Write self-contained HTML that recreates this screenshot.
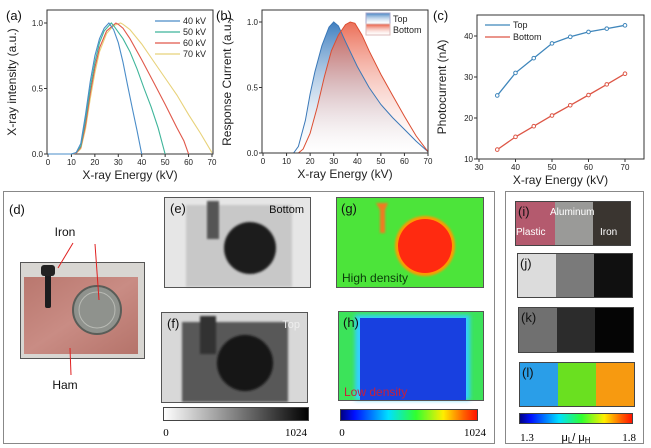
<!DOCTYPE html>
<html><head><meta charset="utf-8">
<style>
body{margin:0;background:#fff}
svg{display:block;font-family:"Liberation Sans",sans-serif}
.t{font-size:8px;fill:#222}
.lab{font-size:12px;fill:#222}
.pl{font-size:13px;fill:#111}
</style></head><body>
<svg id="fig" width="651" height="448" viewBox="0 0 651 448">
<defs>
<linearGradient id="gTop" x1="0" y1="0" x2="0" y2="1"><stop offset="0" stop-color="#3f7fc0"/><stop offset="1" stop-color="#fff" stop-opacity="0.2"/></linearGradient>
<linearGradient id="gBot" x1="0" y1="0" x2="0" y2="1"><stop offset="0" stop-color="#e8553a"/><stop offset="1" stop-color="#fff" stop-opacity="0.2"/></linearGradient>
<linearGradient id="cbGray" x1="0" x2="1"><stop offset="0" stop-color="#fff"/><stop offset="1" stop-color="#000"/></linearGradient>
<linearGradient id="cbJet" x1="0" x2="1"><stop offset="0" stop-color="#000080"/><stop offset="0.1" stop-color="#0010ff"/><stop offset="0.35" stop-color="#00e0ff"/><stop offset="0.55" stop-color="#30ff30"/><stop offset="0.75" stop-color="#ffee00"/><stop offset="0.9" stop-color="#ff6000"/><stop offset="1" stop-color="#ff1000"/></linearGradient>
<linearGradient id="ham" x1="0" y1="0" x2="1" y2="1"><stop offset="0" stop-color="#b9776e"/><stop offset="0.5" stop-color="#c98c84"/><stop offset="1" stop-color="#b5736a"/></linearGradient>
<filter id="bl"><feGaussianBlur stdDeviation="2"/></filter>
<filter id="bl1"><feGaussianBlur stdDeviation="1"/></filter>
</defs>
<g id="chartA"></g>
<g id="chartB"></g>
<g id="chartC"></g>

<!-- bottom frames -->
<rect x="3.5" y="191.5" width="491" height="252" fill="none" stroke="#888"/>
<rect x="505.5" y="191.5" width="138" height="252" fill="none" stroke="#888"/>

<!-- (d) photo -->
<g>
<text x="9" y="214" class="pl">(d)</text>
<rect x="20.5" y="262.5" width="124" height="96" fill="#d8d6d2" stroke="#555"/>
<rect x="24" y="277" width="114" height="77" fill="url(#ham)"/>
<rect x="45" y="268" width="6" height="40" fill="#1c1c1e" rx="2"/>
<rect x="41" y="265" width="14" height="11" fill="#222" rx="3"/>
<circle cx="97" cy="310" r="24" fill="#8f928d" stroke="#5a5d58" stroke-width="2"/>
<circle cx="97" cy="310" r="18" fill="none" stroke="#b8bab4" stroke-width="1"/>
<text x="65" y="236" font-size="12" text-anchor="middle" fill="#111">Iron</text>
<line x1="73" y1="243" x2="58" y2="268" stroke="#e02020" stroke-width="1"/>
<line x1="95" y1="244" x2="99" y2="300" stroke="#e02020" stroke-width="1"/>
<text x="65" y="389" font-size="12" text-anchor="middle" fill="#111">Ham</text>
<line x1="71" y1="375" x2="70" y2="348" stroke="#e02020" stroke-width="1"/>
</g>

<!-- (e) -->
<g>
<rect x="164" y="197" width="146" height="90" fill="#e6e6e6"/>
<rect x="186" y="205" width="106" height="82" fill="#c8c8c8" filter="url(#bl1)"/>
<rect x="207" y="201" width="12" height="38" fill="#555" filter="url(#bl1)"/>
<circle cx="250" cy="248" r="26" fill="#1a1a1a" filter="url(#bl1)"/>
<rect x="164.5" y="197.5" width="146" height="90" fill="none" stroke="#555"/>
<text x="170" y="213" class="pl">(e)</text>
<text x="304" y="213" font-size="11" text-anchor="end" fill="#111">Bottom</text>
</g>
<!-- (f) -->
<g>
<rect x="161" y="312" width="146" height="90" fill="#d8d8d8"/>
<rect x="182" y="322" width="106" height="80" fill="#585858" filter="url(#bl1)"/>
<rect x="200" y="316" width="16" height="38" fill="#303030" filter="url(#bl1)"/>
<circle cx="245" cy="363" r="28" fill="#161616" filter="url(#bl1)"/>
<rect x="161.5" y="312.5" width="146" height="90" fill="none" stroke="#555"/>
<text x="167" y="328" class="pl">(f)</text>
<text x="300" y="328" font-size="11" text-anchor="end" fill="#eee">Top</text>
</g>
<rect x="163.5" y="407.5" width="145" height="13" fill="url(#cbGray)" stroke="#444"/>
<text x="166" y="436" font-size="11" font-family="Liberation Serif" text-anchor="middle">0</text>
<text x="307" y="436" font-size="11" font-family="Liberation Serif" text-anchor="end">1024</text>

<!-- (g) -->
<g>
<rect x="336" y="197" width="147" height="90" fill="#4ce43a"/>
<path d="M376 203 L388 203 L385 210 L385 233 L380 233 L380 210 Z" fill="#f07a20" filter="url(#bl1)"/>
<circle cx="425" cy="246" r="30" fill="#ff9a00" filter="url(#bl1)"/>
<circle cx="425" cy="246" r="27" fill="#ff2a10"/>
<rect x="336.5" y="197.5" width="147" height="90" fill="none" stroke="#555"/>
<text x="341" y="213" class="pl">(g)</text>
<text x="342" y="282" font-size="12" fill="#0a3a0a">High density</text>
</g>
<!-- (h) -->
<g>
<rect x="338" y="311" width="145" height="89" fill="#3ce35a"/>
<rect x="355" y="315" width="115" height="85" fill="#30d0ff" filter="url(#bl)"/>
<rect x="360" y="318" width="106" height="82" fill="#1840e0"/>
<rect x="338.5" y="311.5" width="145" height="89" fill="none" stroke="#555"/>
<text x="343" y="327" class="pl">(h)</text>
<text x="344" y="396" font-size="12" fill="#c8203a">Low density</text>
</g>
<rect x="340.5" y="409.5" width="137" height="11" fill="url(#cbJet)" stroke="#444"/>
<text x="342" y="436" font-size="11" font-family="Liberation Serif" text-anchor="middle">0</text>
<text x="486" y="436" font-size="11" font-family="Liberation Serif" text-anchor="end">1024</text>

<!-- (i)-(l) -->
<g>
<rect x="515" y="201" width="40" height="44" fill="#b45a6e"/>
<rect x="555" y="201" width="38" height="44" fill="#9a9a98"/>
<rect x="593" y="201" width="37" height="44" fill="#3a3530"/>
<rect x="515.5" y="201.5" width="115" height="44" fill="none" stroke="#444"/>
<text x="518" y="216" class="pl" fill="#111">(i)</text>
<text x="550" y="215" font-size="10" fill="#fff">Aluminum</text>
<text x="516" y="235" font-size="10" fill="#fff">Plastic</text>
<text x="600" y="235" font-size="10" fill="#fff">Iron</text>
</g>
<g>
<rect x="517" y="253" width="39" height="44" fill="#dcdcdc"/><rect x="556" y="253" width="38" height="44" fill="#7a7a7a"/><rect x="594" y="253" width="38" height="44" fill="#101010"/>
<rect x="517.5" y="253.5" width="115" height="44" fill="none" stroke="#444"/>
<text x="520" y="268" class="pl">(j)</text>
</g>
<g>
<rect x="518" y="307" width="39" height="45" fill="#707070"/><rect x="557" y="307" width="38" height="45" fill="#2c2c2c"/><rect x="595" y="307" width="38" height="45" fill="#050505"/>
<rect x="518.5" y="307.5" width="115" height="45" fill="none" stroke="#444"/>
<text x="521" y="322" class="pl">(k)</text>
</g>
<g>
<rect x="519" y="362" width="39" height="44" fill="#2a9ee8"/><rect x="558" y="362" width="38" height="44" fill="#6ae020"/><rect x="596" y="362" width="38" height="44" fill="#f79a10"/>
<rect x="519.5" y="362.5" width="115" height="44" fill="none" stroke="#444"/>
<text x="522" y="377" class="pl">(l)</text>
</g>
<rect x="519.5" y="413.5" width="113" height="10" fill="url(#cbJet)" stroke="#444"/>
<text x="527" y="441" font-size="11" font-family="Liberation Serif" text-anchor="middle">1.3</text>
<text x="576" y="441" font-size="11" text-anchor="middle">μ<tspan font-size="8" dy="2">L</tspan><tspan dy="-2">/ μ</tspan><tspan font-size="8" dy="2">H</tspan></text>
<text x="636" y="441" font-size="11" font-family="Liberation Serif" text-anchor="end">1.8</text>
</svg>
<script>
// ---- data ----
const aEnergy40=[0,10,12,14,16,18,20,22,24,26,28,30,32,34,36,38,40];
const aInt40=[0,0,0.01,0.08,0.3,0.55,0.75,0.88,0.96,1.0,0.95,0.85,0.7,0.52,0.35,0.18,0];
const aEnergy50=[0,10,12,14,16,18,20,22,24,27,28,30,32,35,38,41,44,47,50];
const aInt50=[0,0,0.01,0.06,0.26,0.5,0.7,0.85,0.94,1.0,0.98,0.93,0.88,0.78,0.65,0.5,0.36,0.2,0];
const aEnergy60=[0,10,12,14,16,18,20,22,25,29,30,32,35,40,45,50,55,58,60];
const aInt60=[0,0,0.005,0.05,0.22,0.46,0.66,0.81,0.94,1.0,0.99,0.96,0.88,0.72,0.55,0.38,0.2,0.1,0];
const aEnergy70=[0,10,12,14,16,18,20,22,25,28,31,32,35,40,45,50,55,60,65,70];
const aInt70=[0,0,0.005,0.04,0.19,0.42,0.62,0.78,0.92,0.98,1.0,0.99,0.95,0.84,0.71,0.58,0.45,0.3,0.16,0.01];
const aTicksX=[0,10,20,30,40,50,60,70];
const aTicksY=[0,0.5,1.0];
const aTickLabelsY=["0.0","0.5","1.0"];
const aLegend=["40 kV","50 kV","60 kV","70 kV"];

const bEnergyTop=[0,13,15,18,20,22,25,28,30,32,35,40,45,50,55,60,65,70];
const bTop=[0,0,0.05,0.25,0.45,0.62,0.82,0.96,1.0,0.97,0.85,0.66,0.5,0.37,0.27,0.18,0.09,0.01];
const bEnergyBot=[0,15,17,20,23,26,29,32,35,37,39,42,45,50,55,60,65,70];
const bBot=[0,0,0.03,0.15,0.35,0.58,0.78,0.9,0.98,1.0,0.99,0.9,0.78,0.6,0.44,0.28,0.13,0.01];

const cEnergy=[35,40,45,50,55,60,65,70];
const cTop=[25.5,31,34.6,38.2,39.8,41,41.8,42.6];
const cBot=[12.3,15.4,18,20.6,23.1,25.6,28.2,30.8];
const cTicksX=[30,40,50,60,70];
const cTicksY=[10,20,30,40];

const NS="http://www.w3.org/2000/svg";
function mk(p,tag,at){const e=document.createElementNS(NS,tag);for(const k in at)e.setAttribute(k,at[k]);p.appendChild(e);return e;}
function txt(p,x,y,s,cls,anchor,rot){const e=mk(p,'text',{x:x,y:y,class:cls,'text-anchor':anchor||'middle'});if(rot)e.setAttribute('transform','rotate(-90 '+x+' '+y+')');e.textContent=s;return e;}

function axes(g,box,sx,sy,tx,ty,tyl,xlab,ylab,minor){
  const fr=mk(g,'rect',{x:box.l,y:box.t,width:box.r-box.l,height:box.b-box.t,fill:'none',stroke:'#333','stroke-width':1});
  
  
  tx.forEach(v=>{const x=sx(v);mk(g,'line',{x1:x,y1:box.b,x2:x,y2:box.b+3,stroke:'#333'});
    const t=txt(g,x,box.b+11,String(v),'t');
    
    });
  ty.forEach((v,i)=>{const y=sy(v);mk(g,'line',{x1:box.l-3,y1:y,x2:box.l,y2:y,stroke:'#333'});
    const t=txt(g,box.l-4,y+3,tyl[i],'t','end');
    
    });
  const xl=txt(g,(box.l+box.r)/2,box.b+25,xlab,'lab');
  
  
  const yl=txt(g,box.l-31,(box.t+box.b)/2,ylab,'lab','middle',true);
  
  
}
function pathD(xs,ys,sx,sy){return xs.map((v,i)=>(i?'L':'M')+sx(v).toFixed(1)+' '+sy(ys[i]).toFixed(1)).join(' ');}

// chart A
(function(){
  const g=document.getElementById('chartA');
  const box={l:47,r:213,t:10,b:154};
  const sx=v=>48+v*(212-48)/70, sy=v=>154-v*(154-23);
  const lab=txt(g,6,20,'(a)','pl','start');
  
  
  axes(g,box,sx,sy,aTicksX,aTicksY,aTickLabelsY,'X-ray Energy (kV)','X-ray intensity (a.u.)');
  const cols=['#4a8cc8','#3fb59a','#e0584a','#e8d27a'];
  const X=[aEnergy40,aEnergy50,aEnergy60,aEnergy70],Y=[aInt40,aInt50,aInt60,aInt70];
  for(let i=3;i>=0;i--){const p=mk(g,'path',{d:pathD(X[i],Y[i],sx,sy),fill:'none',stroke:cols[i],'stroke-width':1.1});
    
    }
  aLegend.forEach((s,i)=>{const y=21+i*11;mk(g,'line',{x1:155,y1:y,x2:180,y2:y,stroke:cols[i],'stroke-width':1.2});
    const t=txt(g,183,y+3,s,'t','start');t.style.fontSize='9px';
    
    });
})();
// chart B
(function(){
  const g=document.getElementById('chartB');
  const box={l:262,r:428,t:10,b:153};
  const sx=v=>263+v*(428-263)/70, sy=v=>153-v*(153-22);
  const lab=txt(g,216,20,'(b)','pl','start');
  
  
  const f1=mk(g,'path',{d:pathD(bEnergyTop,bTop,sx,sy)+' L'+sx(70)+' '+sy(0)+' Z',fill:'url(#gTop)'});
  
  
  const f2=mk(g,'path',{d:pathD(bEnergyBot,bBot,sx,sy)+' L'+sx(70)+' '+sy(0)+' Z',fill:'url(#gBot)','fill-opacity':0.85});
  
  
  mk(g,'path',{d:pathD(bEnergyTop,bTop,sx,sy),fill:'none',stroke:'#3a78b8','stroke-width':1});
  mk(g,'path',{d:pathD(bEnergyBot,bBot,sx,sy),fill:'none',stroke:'#dc4e32','stroke-width':1});
  axes(g,box,sx,sy,aTicksX,aTicksY,aTickLabelsY,'X-ray Energy (kV)','Response Current (a.u.)');
  mk(g,'rect',{x:366,y:13,width:24,height:11,fill:'url(#gTop)',stroke:'#aac'});
  mk(g,'rect',{x:366,y:24,width:24,height:11,fill:'url(#gBot)',stroke:'#dbb'});
  const l1=txt(g,393,22,'Top','t','start');l1.style.fontSize='9px';
  
  
  const l2=txt(g,393,33,'Bottom','t','start');l2.style.fontSize='9px';
  
  
})();
// chart C
(function(){
  const g=document.getElementById('chartC');
  const box={l:477,r:644,t:15,b:159};
  const sx=v=>479+(v-30)*(625-479)/40, sy=v=>159-(v-10)*(159-36)/30;
  const lab=txt(g,433,20,'(c)','pl','start');
  
  
  axes(g,box,sx,sy,cTicksX,cTicksY,cTicksY.map(String),'X-ray Energy (kV)','Photocurrent (nA)');
  [[cTop,'#3f86bb','top'],[cBot,'#dd5646','bottom']].forEach(([d,c,n])=>{
    const p=mk(g,'path',{d:pathD(cEnergy,d,sx,sy),fill:'none',stroke:c,'stroke-width':1.3});
    
    
    cEnergy.forEach((v,i)=>{const m=mk(g,'circle',{cx:sx(v),cy:sy(d[i]),r:1.8,fill:'#fff',stroke:c,'stroke-width':1});
      
      });
  });
  mk(g,'line',{x1:485,y1:25,x2:510,y2:25,stroke:'#3f86bb','stroke-width':1.3});
  mk(g,'line',{x1:485,y1:37,x2:510,y2:37,stroke:'#dd5646','stroke-width':1.3});
  const a=txt(g,513,28,'Top','t','start');a.style.fontSize='9px';
  
  
  const b=txt(g,513,40,'Bottom','t','start');b.style.fontSize='9px';
  
  
})();
</script>
</body></html>
